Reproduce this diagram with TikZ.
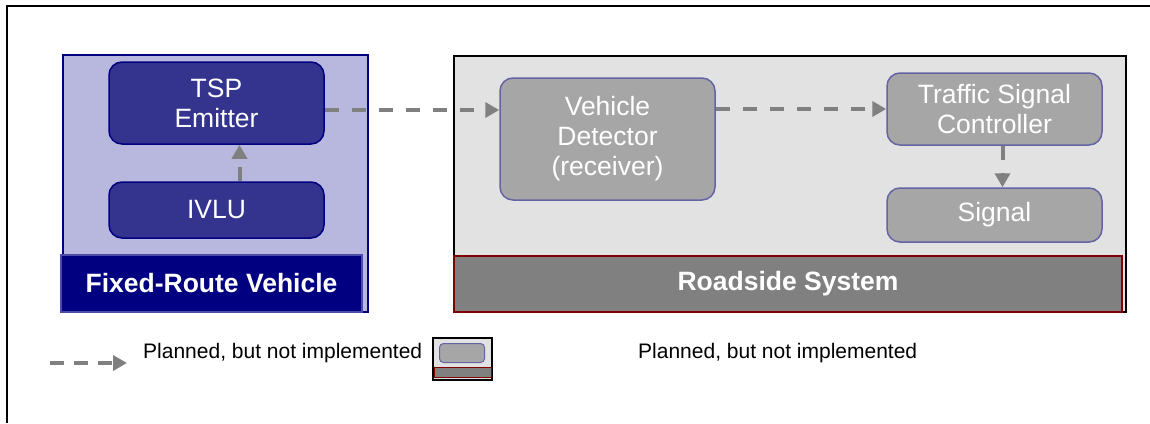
\documentclass[tikz,border=0pt]{standalone}
\usepackage{fontspec}
\setmainfont{Liberation Sans}
\usetikzlibrary{arrows.meta}
\definecolor{navy}{RGB}{0,0,128}
\definecolor{vehback}{RGB}{184,184,222}
\definecolor{vehfill}{RGB}{52,52,142}
\definecolor{roadback}{RGB}{226,226,226}
\definecolor{roadfill}{RGB}{166,166,166}
\definecolor{roadline}{RGB}{100,100,165}
\definecolor{bandgray}{RGB}{128,128,128}
\definecolor{darkred}{RGB}{128,0,0}
\definecolor{flowgray}{RGB}{128,128,128}
\tikzset{
  region/.style={draw, line width=1.5pt, inner sep=0pt},
  band/.style={line width=1.5pt, inner sep=0pt, text=white,
    font=\fontsize{26.5}{30}\selectfont\bfseries},
  vehbox/.style={draw=navy, line width=1.5pt, fill=vehfill, rounded corners=13pt,
    text=white, align=center, minimum width=215pt, inner sep=1pt,
    font=\fontsize{26.5}{30}\selectfont},
  roadbox/.style={vehbox, draw=roadline, fill=roadfill},
  planned/.style={draw=flowgray, line width=4pt, dash pattern=on 14pt off 13pt,
    -{Triangle[length=14pt,width=15pt]}},
  legend/.style={anchor=base west, inner sep=0pt, font=\fontsize{21}{25}\selectfont}
}
\begin{document}
\begin{tikzpicture}[x=1pt,y=-1pt]
  \useasboundingbox (0,0) rectangle (1150,423);
  \draw[line width=2pt] (7,423) -- (7,6) -- (1150,6);
  % vehicle side
  \node[region, draw=navy, fill=vehback, minimum width=305pt, minimum height=257pt]
    (veh) at (215.5,183.5) {};
  \node[band, draw=navy!70, fill=navy, minimum width=301pt, minimum height=57pt]
    (vehband) at (211.5,283.5) {Fixed-Route Vehicle};
  \node[vehbox, minimum height=82pt] (tsp) at (216.5,103) {TSP\\Emitter};
  \node[vehbox, minimum height=56pt] (ivlu) at (216.5,210) {IVLU};
  % roadside
  \node[region, draw=black, fill=roadback, minimum width=672pt, minimum height=256pt]
    (road) at (790,184) {};
  \node[band, draw=darkred, fill=bandgray, minimum width=668pt, minimum height=56pt]
    (roadband) at (788,284) {Roadside System};
  \node[roadbox, minimum height=122pt] (vd) at (607.5,139) {Vehicle\\Detector\\(receiver)};
  \node[roadbox, minimum height=72pt] (tsc) at (994.5,109) {Traffic Signal\\Controller};
  \node[roadbox, minimum height=54pt] (signal) at (994.5,215) {Signal};
  \begin{scope}[planned]
    \draw ([xshift=23pt]ivlu.north) to ([xshift=23pt]tsp.south);
    \draw ([yshift=-7pt]tsp.east) to ([yshift=-7pt]tsp.east -| vd.west);
    \draw (vd.east |- tsc.west) to (tsc.west);
    \draw ([xshift=8pt]tsc.south) to ([xshift=8pt]signal.north);
  \end{scope}
  % legend
  \coordinate (legstart) at (50,363);
  \coordinate (legend) at (127,363);
  \draw[planned, dash pattern=on 14pt off 10pt] (legstart) to (legend);
  \node[legend] (legtext1) at (143,358) {Planned, but not implemented};
  \node[draw=black, line width=2pt, fill=roadback, minimum width=59pt, minimum height=42pt,
    inner sep=0pt] (legicon) at (462.5,359) {};
  \node[draw=roadline, line width=1pt, fill=roadfill, rounded corners=4pt, minimum width=45pt,
    minimum height=19pt, inner sep=0pt] (legbox) at (462,353) {};
  \node[draw=darkred, line width=1pt, fill=bandgray, minimum width=57pt, minimum height=10pt,
    inner sep=0pt] (legband) at (462.5,372.5) {};
  \node[legend] (legtext2) at (638,358) {Planned, but not implemented};
\end{tikzpicture}
\end{document}
